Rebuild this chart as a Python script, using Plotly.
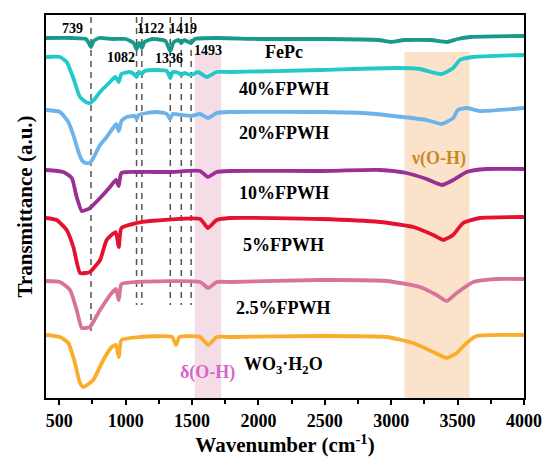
import plotly.graph_objects as go

# ---------------- data (wavenumber cm-1, transmittance a.u. offset) ----------------
fepc_x = [400, 600, 700, 722, 739, 758, 800, 900, 1000, 1060, 1082, 1102, 1122, 1142, 1200, 1300, 1336, 1362, 1400, 1419, 1440, 1493, 1520, 1700, 2000, 2500, 2900, 3000, 3100, 3300, 3420, 3500, 3600, 4000]
fepc_y = [362, 362, 361, 357, 353, 359, 362, 361, 361, 357, 351, 357, 352, 358, 361, 359, 349, 358, 360, 357, 360, 357, 361, 362, 361, 361, 360, 358, 360, 360, 358, 361, 363, 364]

p40_x = [400, 505, 556, 603, 656, 700, 731, 760, 807, 882, 922, 948, 968, 1033, 1070, 1082, 1098, 1122, 1142, 1234, 1310, 1336, 1355, 1400, 1419, 1440, 1493, 1545, 1610, 1685, 1786, 2463, 3041, 3216, 3300, 3380, 3467, 3517, 3615, 4000]
p40_y = [343, 343, 338, 323, 303, 298, 297, 300, 308, 318, 323, 318, 326, 328, 325, 323, 328, 326, 329, 330, 329, 322, 328, 327, 325, 327, 325, 328, 323, 328, 328, 330, 332, 331, 328, 326, 332, 340, 343, 345]

p20_x = [400, 505, 568, 606, 640, 669, 700, 731, 760, 807, 857, 905, 930, 948, 968, 1008, 1070, 1083, 1098, 1158, 1234, 1310, 1334, 1355, 1419, 1493, 1560, 1620, 1685, 1786, 2463, 2787, 3088, 3267, 3380, 3467, 3502, 3568, 3668, 4000]
p20_y = [290, 288, 278, 265, 250, 240, 237, 237, 243, 255, 263, 272, 276, 269, 279, 283, 284, 281, 285, 287, 288, 286, 281, 286, 285, 284, 286, 282, 287, 288, 288, 287, 283, 280, 276, 282, 290, 292, 289, 292]

p10_x = [400, 530, 594, 631, 669, 700, 731, 807, 882, 927, 948, 968, 1108, 1334, 1560, 1620, 1685, 1786, 2463, 2915, 3116, 3267, 3380, 3467, 3568, 3718, 4000]
p10_y = [230, 228, 222, 203, 189, 190, 192, 202, 213, 220, 214, 227, 228, 228, 229, 223, 228, 229, 229, 230, 227, 221, 215, 220, 228, 231, 231]

p5_x = [400, 480, 556, 606, 656, 700, 731, 807, 857, 925, 948, 968, 1083, 1183, 1560, 1620, 1685, 1786, 2463, 2915, 3166, 3316, 3392, 3465, 3542, 3668, 4000]
p5_y = [182, 180, 170, 153, 127, 127, 128, 140, 160, 168, 153, 172, 177, 179, 181, 172, 180, 182, 181, 178, 173, 165, 160, 165, 177, 182, 183]

p25_x = [400, 505, 581, 631, 669, 700, 731, 807, 895, 927, 948, 968, 1083, 1560, 1622, 1685, 1786, 2463, 2965, 3216, 3342, 3417, 3493, 3618, 3794, 4000]
p25_y = [119, 118, 110, 90, 72, 72, 73, 90, 107, 111, 100, 116, 118, 118, 112, 118, 118, 120, 119, 113, 105, 99, 107, 118, 121, 121]

wo3_x = [400, 505, 568, 618, 656, 681, 756, 831, 895, 927, 948, 968, 1108, 1350, 1379, 1405, 1560, 1622, 1685, 1786, 2463, 2965, 3166, 3316, 3417, 3493, 3568, 3643, 4000]
wo3_y = [65, 63, 57, 37, 17, 13, 20, 40, 53, 55, 43, 60, 63, 63, 55, 63, 63, 55, 63, 63, 64, 63, 57, 48, 42, 47, 57, 64, 65]

series_names = ["FePc", "40%FPWH", "20%FPWH", "10%FPWH", "5%FPWH", "2.5%FPWH", "WO<sub>3</sub>·H<sub>2</sub>O"]
series_colors = ["#17998b", "#22c9c9", "#6cb3ec", "#9a2f96", "#e6112e", "#d9739a", "#f9ad2a"]
label_y = [348, 311, 267, 207, 155, 92, 35]

peak_wn = [739, 1082, 1122, 1336, 1419, 1493]
peak_label_pos = [(596, 372), (965, 343), (1185, 372), (1326, 342), (1432, 372), (1620, 350)]

xticks = [500, 1000, 1500, 2000, 2500, 3000, 3500, 4000]

FONT = "Liberation Serif, Times New Roman, serif"

fig = go.Figure()

# shaded bands
YMIN, YMAX = 2, 385
fig.add_shape(type="rect", x0=1520, x1=1720, y0=YMIN, y1=347, fillcolor="#f4dde6",
              line=dict(width=0), layer="below")
fig.add_shape(type="rect", x0=3100, x1=3590, y0=YMIN, y1=348, fillcolor="#fbe2cb",
              line=dict(width=0), layer="below")

# dashed guide lines
for i, w in enumerate(peak_wn):
    y_bottom = 65 if i == 0 else 95
    fig.add_trace(go.Scatter(x=[w, w], y=[383, y_bottom], mode="lines",
                             line=dict(color="#555555", width=1.5, dash="6px,5px"),
                             hoverinfo="skip", showlegend=False))

xs = [fepc_x, p40_x, p20_x, p10_x, p5_x, p25_x, wo3_x]
ys = [fepc_y, p40_y, p20_y, p10_y, p5_y, p25_y, wo3_y]
for x, y, n, c in zip(xs, ys, series_names, series_colors):
    fig.add_trace(go.Scatter(x=x, y=y, mode="lines", name=n,
                             line=dict(color=c, width=3.8, shape="spline", smoothing=0.5),
                             showlegend=False))

# series labels
for n, ly in zip(series_names, label_y):
    fig.add_annotation(x=2190, y=ly, text="<b>%s</b>" % n, showarrow=False,
                       font=dict(family=FONT, size=18, color="black"))

# peak labels
for w, (px, py) in zip(peak_wn, peak_label_pos):
    fig.add_annotation(x=px, y=py, text="<b>%d</b>" % w, showarrow=False,
                       font=dict(family=FONT, size=14, color="black"))

fig.add_annotation(x=3359, y=242, text="<b>ν(O-H)</b>", showarrow=False,
                   font=dict(family=FONT, size=18, color="#c98a24"))
fig.add_annotation(x=1616, y=28, text="<b>δ(O-H)</b>", showarrow=False,
                   font=dict(family=FONT, size=18, color="#d665c9"))

fig.update_layout(
    width=542, height=460,
    margin=dict(l=46, r=18, t=15, b=62, autoexpand=False),
    paper_bgcolor="white", plot_bgcolor="white",
    font=dict(family=FONT, size=18, color="black"),
    showlegend=False,
)
fig.update_xaxes(range=[400, 4000], tickvals=xticks, ticktext=["<b>%d</b>" % t for t in xticks],
                 ticks="outside", ticklen=5, tickwidth=1.5, tickcolor="black",
                 minor=dict(dtick=250, tick0=0, ticks="outside", ticklen=4, tickwidth=1.5, tickcolor="black"),
                 showline=True, linecolor="black", linewidth=2, mirror=True,
                 showgrid=False, zeroline=False, automargin=False,
                 tickfont=dict(family=FONT, size=18),
                 title=dict(text="<b>Wavenumber (cm<sup>-1</sup>)</b>", font=dict(family=FONT, size=21), standoff=8))
fig.update_yaxes(range=[YMIN, YMAX], showticklabels=False, ticks="",
                 showline=True, linecolor="black", linewidth=2, mirror=True,
                 showgrid=False, zeroline=False, automargin=False,
                 title=dict(text="<b>Transmittance (a.u.)</b>", font=dict(family=FONT, size=21), standoff=6))

fig.write_html("out.html", config={"displayModeBar": False},
               post_script="document.body.style.margin='0';document.body.style.padding='0';")
